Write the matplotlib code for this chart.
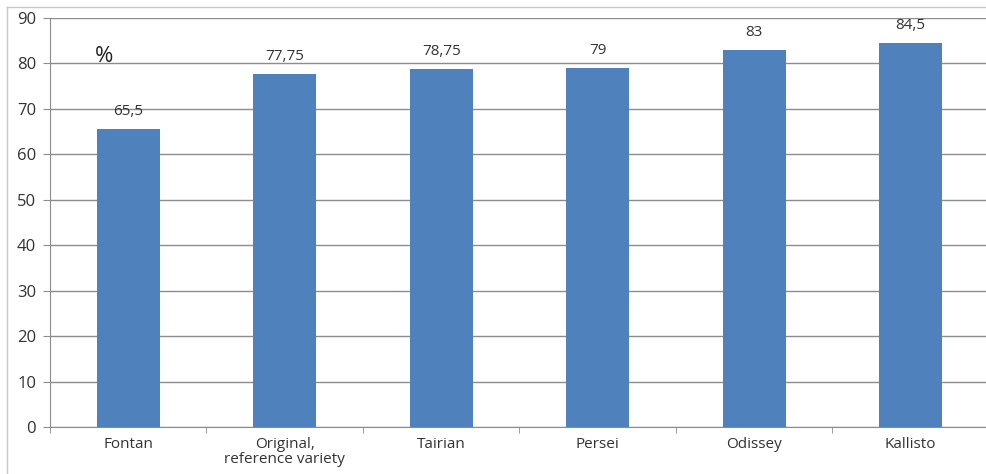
import matplotlib
matplotlib.use("Agg")
import matplotlib.pyplot as plt
from matplotlib.lines import Line2D

categories = ["Fontan", "Original,\nreference variety", "Tairian", "Persei", "Odissey", "Kallisto"]
values = [65.5, 77.75, 78.75, 79, 83, 84.5]
labels = ["65,5", "77,75", "78,75", "79", "83", "84,5"]

plt.rcParams['font.family'] = ['Open Sans', 'DejaVu Sans']

fig = plt.figure(figsize=(9.87, 4.74), dpi=100)
ax = fig.add_axes([50 / 987, 1 - 427 / 474, 939 / 987, 409 / 474])

x = list(range(len(categories)))
ax.bar(x, values, width=0.4, color="#4F81BD", zorder=3)
for xi, v, lab in zip(x, values, labels):
    ax.text(xi, v + 2.2, lab, ha="center", va="bottom", fontsize=11, color="#333333")

ax.set_xlim(-0.5, len(categories) - 0.5)
ax.set_ylim(0, 90)
ax.set_yticks(range(0, 91, 10))
ax.yaxis.grid(True, color="#8c8c8c", linewidth=1, zorder=0)
ax.set_xticks(x)
ax.set_xticklabels(categories, fontsize=11, color="#333333", linespacing=1.05)
ax.set_xticks([i - 0.5 for i in range(len(categories) + 1)], minor=True)
ax.tick_params(axis="x", which="major", length=0, pad=7)
ax.tick_params(axis="x", which="minor", length=4, color="#8c8c8c", direction="out")
ax.tick_params(axis="y", length=5, color="#8c8c8c", labelsize=12, labelcolor="#333333", pad=5)

for s in ["top", "right"]:
    ax.spines[s].set_visible(False)
ax.spines["left"].set_color("#8c8c8c")
ax.spines["bottom"].set_color("#8c8c8c")

ax.text(0.058, 0.905, "%", transform=ax.transAxes, fontsize=16, ha="center", va="center", color="#222222")

# chart frame
fig.add_artist(Line2D([7 / 987, 7 / 987], [0, 1 - 7 / 474], transform=fig.transFigure, color="#c8c8c8", lw=1))
fig.add_artist(Line2D([7 / 987, 1], [1 - 7 / 474, 1 - 7 / 474], transform=fig.transFigure, color="#c8c8c8", lw=1))

fig.savefig("out.png", dpi=100)
